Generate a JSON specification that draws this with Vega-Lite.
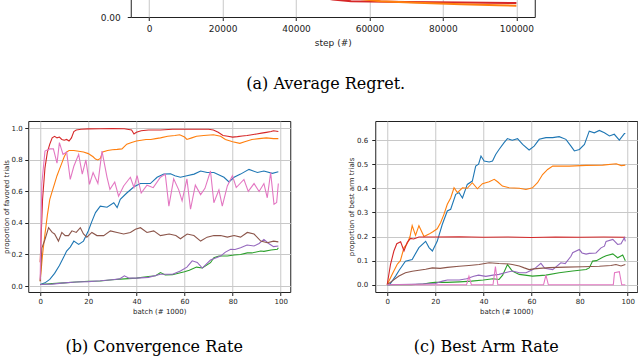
{
  "$schema": "https://vega.github.io/schema/vega-lite/v6.json",
  "padding": {"left": 1, "top": -84, "right": 0, "bottom": 0},
  "background": "white",
  "resolve": {"scale": {"color": "independent"}},
  "config": {
    "view": {"stroke": "#222222", "strokeWidth": 1},
    "axis": {"labelFont": "DejaVu Sans", "titleFont": "DejaVu Sans", "labelColor": "#222222", "titleColor": "#222222", "titleFontWeight": "normal", "tickColor": "#222222", "domain": false, "gridColor": "#c8c8c8", "gridWidth": 1, "tickSize": 3.5, "labelFontSize": 7, "titleFontSize": 7},
    "title": {"font": "DejaVu Serif", "fontSize": 16, "fontWeight": "normal", "color": "#000000", "orient": "bottom", "frame": "group", "anchor": "middle"}
  },
  "spacing": 28,
  "center": true,
  "align": "each",
  "vconcat": [
    {
      "width": 404, "height": 100,
      "title": {"text": "(a) Average Regret.", "offset": 28, "dx": -7},
      "data": {"values": [
        {"s":"red","x":0,"y":0.1},{"s":"red","x":20000,"y":0.05},{"s":"red","x":40000,"y":0.024},{"s":"red","x":50000,"y":0.0175},{"s":"red","x":55000,"y":0.0158},{"s":"red","x":70000,"y":0.015},{"s":"red","x":85000,"y":0.0144},{"s":"red","x":100000,"y":0.0139},
        {"s":"orange","x":0,"y":0.1},{"s":"orange","x":20000,"y":0.05},{"s":"orange","x":40000,"y":0.027},{"s":"orange","x":55000,"y":0.019},{"s":"orange","x":63000,"y":0.0158},{"s":"orange","x":73000,"y":0.0142},{"s":"orange","x":85000,"y":0.0128},{"s":"orange","x":95000,"y":0.0118},{"s":"orange","x":100000,"y":0.0113}
      ]},
      "mark": {"type": "line", "strokeWidth": 2, "clip": true},
      "encoding": {
        "x": {"field": "x", "type": "quantitative", "scale": {"domain": [-5000, 105000], "nice": false, "zero": false}, "axis": {"values": [0, 20000, 40000, 60000, 80000, 100000], "format": "d", "title": "step (#)", "labelFontSize": 9, "titleFontSize": 9, "labelPadding": 4, "titlePadding": 5}},
        "y": {"field": "y", "type": "quantitative", "scale": {"domain": [0, 0.1], "nice": false}, "axis": {"values": [0], "format": ".2f", "title": null, "grid": false, "labelFontSize": 9, "labelPadding": 7}},
        "color": {"field": "s", "type": "nominal", "scale": {"domain": ["red", "orange"], "range": ["#d62728", "#ff7f0e"]}, "legend": null}
      }
    },
    {
      "spacing": 55,
      "resolve": {"scale": {"color": "independent"}},
      "hconcat": [
        {
          "width": 262, "height": 171,
          "title": {"text": "(b) Convergence Rate", "offset": 25, "dx": -5},
          "data": {"values": [
            {"s":"blue","x":0,"y":0.01},{"s":"blue","x":2,"y":0.02},{"s":"blue","x":4,"y":0.042},{"s":"blue","x":6,"y":0.08},{"s":"blue","x":8,"y":0.13},{"s":"blue","x":10,"y":0.19},{"s":"blue","x":11,"y":0.222},{"s":"blue","x":12.5,"y":0.247},{"s":"blue","x":14,"y":0.285},{"s":"blue","x":16,"y":0.264},{"s":"blue","x":18,"y":0.285},{"s":"blue","x":20,"y":0.349},{"s":"blue","x":21.5,"y":0.41},{"s":"blue","x":23,"y":0.466},{"s":"blue","x":25,"y":0.507},{"s":"blue","x":27.8,"y":0.5},{"s":"blue","x":30.6,"y":0.528},{"s":"blue","x":32,"y":0.497},{"s":"blue","x":33.3,"y":0.55},{"s":"blue","x":36,"y":0.59},{"s":"blue","x":39,"y":0.63},{"s":"blue","x":41.7,"y":0.65},{"s":"blue","x":45.8,"y":0.65},{"s":"blue","x":48.6,"y":0.69},{"s":"blue","x":51.4,"y":0.71},{"s":"blue","x":54.2,"y":0.712},{"s":"blue","x":56,"y":0.7},{"s":"blue","x":58.3,"y":0.69},{"s":"blue","x":61,"y":0.7},{"s":"blue","x":64,"y":0.71},{"s":"blue","x":66.7,"y":0.73},{"s":"blue","x":69.4,"y":0.72},{"s":"blue","x":72.2,"y":0.72},{"s":"blue","x":76.4,"y":0.69},{"s":"blue","x":78.5,"y":0.66},{"s":"blue","x":80.6,"y":0.69},{"s":"blue","x":83.3,"y":0.71},{"s":"blue","x":86.8,"y":0.74},{"s":"blue","x":90.3,"y":0.72},{"s":"blue","x":93,"y":0.73},{"s":"blue","x":96.5,"y":0.715},{"s":"blue","x":99,"y":0.725},
            {"s":"orange","x":0,"y":0.03},{"s":"orange","x":1,"y":0.2},{"s":"orange","x":2,"y":0.33},{"s":"orange","x":3,"y":0.45},{"s":"orange","x":4,"y":0.55},{"s":"orange","x":5,"y":0.6},{"s":"orange","x":6,"y":0.65},{"s":"orange","x":7,"y":0.7},{"s":"orange","x":8,"y":0.74},{"s":"orange","x":9,"y":0.78},{"s":"orange","x":10,"y":0.82},{"s":"orange","x":11,"y":0.85},{"s":"orange","x":12,"y":0.86},{"s":"orange","x":14,"y":0.86},{"s":"orange","x":16,"y":0.855},{"s":"orange","x":18,"y":0.85},{"s":"orange","x":20,"y":0.84},{"s":"orange","x":22,"y":0.82},{"s":"orange","x":23,"y":0.805},{"s":"orange","x":24,"y":0.8},{"s":"orange","x":25,"y":0.81},{"s":"orange","x":26,"y":0.85},{"s":"orange","x":28,"y":0.86},{"s":"orange","x":30,"y":0.865},{"s":"orange","x":32,"y":0.867},{"s":"orange","x":34,"y":0.87},{"s":"orange","x":36,"y":0.9},{"s":"orange","x":38,"y":0.91},{"s":"orange","x":40,"y":0.92},{"s":"orange","x":42,"y":0.925},{"s":"orange","x":44,"y":0.93},{"s":"orange","x":46,"y":0.93},{"s":"orange","x":48,"y":0.935},{"s":"orange","x":50,"y":0.94},{"s":"orange","x":53,"y":0.95},{"s":"orange","x":56,"y":0.955},{"s":"orange","x":58,"y":0.96},{"s":"orange","x":60,"y":0.945},{"s":"orange","x":61,"y":0.93},{"s":"orange","x":63,"y":0.94},{"s":"orange","x":65,"y":0.95},{"s":"orange","x":68,"y":0.955},{"s":"orange","x":72,"y":0.96},{"s":"orange","x":75,"y":0.95},{"s":"orange","x":77,"y":0.93},{"s":"orange","x":80,"y":0.915},{"s":"orange","x":83,"y":0.905},{"s":"orange","x":85,"y":0.915},{"s":"orange","x":88,"y":0.93},{"s":"orange","x":91,"y":0.935},{"s":"orange","x":94,"y":0.94},{"s":"orange","x":97,"y":0.935},{"s":"orange","x":99,"y":0.935},
            {"s":"green","x":0,"y":0.01},{"s":"green","x":5,"y":0.015},{"s":"green","x":10,"y":0.02},{"s":"green","x":15,"y":0.025},{"s":"green","x":20,"y":0.03},{"s":"green","x":25,"y":0.032},{"s":"green","x":30,"y":0.04},{"s":"green","x":35,"y":0.045},{"s":"green","x":40,"y":0.05},{"s":"green","x":45,"y":0.06},{"s":"green","x":48,"y":0.065},{"s":"green","x":50,"y":0.085},{"s":"green","x":52,"y":0.07},{"s":"green","x":55,"y":0.072},{"s":"green","x":58.3,"y":0.084},{"s":"green","x":60,"y":0.09},{"s":"green","x":62,"y":0.1},{"s":"green","x":65,"y":0.12},{"s":"green","x":67.4,"y":0.114},{"s":"green","x":70.8,"y":0.148},{"s":"green","x":72.2,"y":0.18},{"s":"green","x":74.3,"y":0.19},{"s":"green","x":77.8,"y":0.19},{"s":"green","x":80.6,"y":0.197},{"s":"green","x":83.3,"y":0.2},{"s":"green","x":86.1,"y":0.21},{"s":"green","x":88,"y":0.21},{"s":"green","x":91.7,"y":0.222},{"s":"green","x":93,"y":0.22},{"s":"green","x":96,"y":0.228},{"s":"green","x":98.6,"y":0.233},{"s":"green","x":99,"y":0.243},
            {"s":"red","x":0,"y":0.15},{"s":"red","x":1,"y":0.55},{"s":"red","x":2,"y":0.75},{"s":"red","x":3,"y":0.85},{"s":"red","x":4,"y":0.9},{"s":"red","x":5,"y":0.94},{"s":"red","x":6,"y":0.95},{"s":"red","x":7,"y":0.94},{"s":"red","x":8,"y":0.945},{"s":"red","x":9,"y":0.93},{"s":"red","x":10,"y":0.925},{"s":"red","x":11,"y":0.93},{"s":"red","x":12,"y":0.92},{"s":"red","x":13,"y":0.94},{"s":"red","x":14,"y":0.98},{"s":"red","x":15,"y":0.99},{"s":"red","x":17,"y":0.995},{"s":"red","x":20,"y":0.997},{"s":"red","x":25,"y":0.998},{"s":"red","x":30,"y":0.999},{"s":"red","x":35,"y":0.998},{"s":"red","x":38,"y":0.99},{"s":"red","x":39,"y":0.965},{"s":"red","x":40,"y":0.975},{"s":"red","x":42,"y":0.985},{"s":"red","x":45,"y":0.99},{"s":"red","x":50,"y":0.99},{"s":"red","x":55,"y":0.995},{"s":"red","x":60,"y":0.995},{"s":"red","x":65,"y":0.995},{"s":"red","x":70,"y":0.995},{"s":"red","x":72,"y":0.99},{"s":"red","x":74,"y":0.975},{"s":"red","x":76,"y":0.955},{"s":"red","x":78,"y":0.95},{"s":"red","x":80,"y":0.945},{"s":"red","x":82,"y":0.948},{"s":"red","x":84,"y":0.952},{"s":"red","x":86,"y":0.955},{"s":"red","x":88,"y":0.96},{"s":"red","x":90,"y":0.965},{"s":"red","x":92,"y":0.97},{"s":"red","x":94,"y":0.975},{"s":"red","x":96,"y":0.98},{"s":"red","x":97,"y":0.985},{"s":"red","x":99,"y":0.98},
            {"s":"purple","x":0,"y":0.01},{"s":"purple","x":5,"y":0.012},{"s":"purple","x":10,"y":0.02},{"s":"purple","x":15,"y":0.025},{"s":"purple","x":20,"y":0.028},{"s":"purple","x":25,"y":0.033},{"s":"purple","x":30,"y":0.04},{"s":"purple","x":33,"y":0.045},{"s":"purple","x":35,"y":0.065},{"s":"purple","x":37,"y":0.05},{"s":"purple","x":40,"y":0.05},{"s":"purple","x":45,"y":0.055},{"s":"purple","x":50,"y":0.075},{"s":"purple","x":55,"y":0.075},{"s":"purple","x":58.3,"y":0.095},{"s":"purple","x":61,"y":0.12},{"s":"purple","x":63.2,"y":0.16},{"s":"purple","x":65.3,"y":0.15},{"s":"purple","x":67.4,"y":0.114},{"s":"purple","x":70.8,"y":0.165},{"s":"purple","x":75,"y":0.19},{"s":"purple","x":77,"y":0.215},{"s":"purple","x":79.2,"y":0.233},{"s":"purple","x":81,"y":0.232},{"s":"purple","x":83.3,"y":0.243},{"s":"purple","x":86,"y":0.26},{"s":"purple","x":88.9,"y":0.254},{"s":"purple","x":91,"y":0.27},{"s":"purple","x":93,"y":0.296},{"s":"purple","x":95,"y":0.27},{"s":"purple","x":97,"y":0.25},{"s":"purple","x":99,"y":0.254},
            {"s":"brown","x":0,"y":0.03},{"s":"brown","x":0.7,"y":0.24},{"s":"brown","x":2,"y":0.295},{"s":"brown","x":3.5,"y":0.37},{"s":"brown","x":5,"y":0.34},{"s":"brown","x":6,"y":0.33},{"s":"brown","x":7.6,"y":0.285},{"s":"brown","x":9,"y":0.34},{"s":"brown","x":10.4,"y":0.32},{"s":"brown","x":11.8,"y":0.32},{"s":"brown","x":13.2,"y":0.35},{"s":"brown","x":15,"y":0.34},{"s":"brown","x":16.7,"y":0.37},{"s":"brown","x":18,"y":0.33},{"s":"brown","x":19.4,"y":0.31},{"s":"brown","x":21.5,"y":0.34},{"s":"brown","x":23.6,"y":0.32},{"s":"brown","x":26.4,"y":0.32},{"s":"brown","x":29.2,"y":0.35},{"s":"brown","x":32,"y":0.34},{"s":"brown","x":34.7,"y":0.33},{"s":"brown","x":37.5,"y":0.34},{"s":"brown","x":39.6,"y":0.36},{"s":"brown","x":41.7,"y":0.37},{"s":"brown","x":44.4,"y":0.34},{"s":"brown","x":47.2,"y":0.35},{"s":"brown","x":50,"y":0.32},{"s":"brown","x":53.6,"y":0.33},{"s":"brown","x":56.4,"y":0.32},{"s":"brown","x":58.3,"y":0.3},{"s":"brown","x":61.1,"y":0.33},{"s":"brown","x":63.9,"y":0.32},{"s":"brown","x":66.7,"y":0.285},{"s":"brown","x":69.4,"y":0.31},{"s":"brown","x":72.2,"y":0.32},{"s":"brown","x":75,"y":0.32},{"s":"brown","x":77.8,"y":0.31},{"s":"brown","x":80.6,"y":0.32},{"s":"brown","x":83.3,"y":0.31},{"s":"brown","x":86.1,"y":0.34},{"s":"brown","x":88.9,"y":0.33},{"s":"brown","x":91.7,"y":0.285},{"s":"brown","x":94.4,"y":0.275},{"s":"brown","x":97,"y":0.285},{"s":"brown","x":99,"y":0.28},
            {"s":"pink","x":0,"y":0.04},{"s":"pink","x":0.7,"y":0.65},{"s":"pink","x":2,"y":0.856},{"s":"pink","x":4,"y":0.87},{"s":"pink","x":5.5,"y":0.87},{"s":"pink","x":7,"y":0.78},{"s":"pink","x":8,"y":0.91},{"s":"pink","x":9.5,"y":0.835},{"s":"pink","x":11,"y":0.85},{"s":"pink","x":12.5,"y":0.676},{"s":"pink","x":14,"y":0.76},{"s":"pink","x":16,"y":0.835},{"s":"pink","x":17.5,"y":0.71},{"s":"pink","x":19,"y":0.8},{"s":"pink","x":20.5,"y":0.645},{"s":"pink","x":22,"y":0.72},{"s":"pink","x":24,"y":0.65},{"s":"pink","x":25.7,"y":0.856},{"s":"pink","x":27.8,"y":0.69},{"s":"pink","x":29,"y":0.613},{"s":"pink","x":31,"y":0.66},{"s":"pink","x":32.6,"y":0.57},{"s":"pink","x":34.7,"y":0.635},{"s":"pink","x":37.5,"y":0.69},{"s":"pink","x":39,"y":0.625},{"s":"pink","x":40.3,"y":0.7},{"s":"pink","x":42,"y":0.59},{"s":"pink","x":44.4,"y":0.64},{"s":"pink","x":47,"y":0.624},{"s":"pink","x":50,"y":0.69},{"s":"pink","x":52,"y":0.71},{"s":"pink","x":53.5,"y":0.507},{"s":"pink","x":55.5,"y":0.68},{"s":"pink","x":57.6,"y":0.61},{"s":"pink","x":59,"y":0.54},{"s":"pink","x":61,"y":0.68},{"s":"pink","x":62.5,"y":0.487},{"s":"pink","x":64.5,"y":0.64},{"s":"pink","x":66.7,"y":0.58},{"s":"pink","x":68.5,"y":0.62},{"s":"pink","x":70.8,"y":0.73},{"s":"pink","x":72.2,"y":0.528},{"s":"pink","x":74.3,"y":0.61},{"s":"pink","x":75.7,"y":0.507},{"s":"pink","x":77.8,"y":0.635},{"s":"pink","x":79.9,"y":0.7},{"s":"pink","x":81.5,"y":0.625},{"s":"pink","x":84.7,"y":0.676},{"s":"pink","x":86.5,"y":0.6},{"s":"pink","x":88.9,"y":0.65},{"s":"pink","x":91,"y":0.6},{"s":"pink","x":93,"y":0.65},{"s":"pink","x":94.4,"y":0.56},{"s":"pink","x":95.8,"y":0.72},{"s":"pink","x":97.2,"y":0.518},{"s":"pink","x":98.3,"y":0.53},{"s":"pink","x":99,"y":0.65}
          ]},
          "mark": {"type": "line", "strokeWidth": 1.1, "clip": true},
          "encoding": {
            "x": {"field": "x", "type": "quantitative", "scale": {"domain": [-4.95, 103.95], "nice": false, "zero": false}, "axis": {"values": [0, 20, 40, 60, 80, 100], "title": "batch (# 1000)", "labelPadding": 2, "titlePadding": 2.5}},
            "y": {"field": "y", "type": "quantitative", "scale": {"domain": [-0.038, 1.047], "nice": false, "zero": false}, "axis": {"values": [0, 0.2, 0.4, 0.6, 0.8, 1.0], "format": ".1f", "title": "proportion of favored trials", "labelPadding": 2.5, "titlePadding": 2}},
            "color": {"field": "s", "type": "nominal", "scale": {"domain": ["blue", "orange", "green", "red", "purple", "brown", "pink"], "range": ["#1f77b4", "#ff7f0e", "#2ca02c", "#d62728", "#9467bd", "#8c564b", "#e377c2"]}, "legend": null}
          }
        },
        {
          "width": 262, "height": 171,
          "title": {"text": "(c) Best Arm Rate", "offset": 25, "dx": -20},
          "data": {"values": [
            {"s":"blue","x":0,"y":0},{"s":"blue","x":1,"y":0},{"s":"blue","x":3.5,"y":0.036},{"s":"blue","x":5,"y":0.06},{"s":"blue","x":7.6,"y":0.098},{"s":"blue","x":10.4,"y":0.105},{"s":"blue","x":13.2,"y":0.154},{"s":"blue","x":16,"y":0.18},{"s":"blue","x":17.4,"y":0.154},{"s":"blue","x":18.8,"y":0.14},{"s":"blue","x":20.8,"y":0.18},{"s":"blue","x":22.9,"y":0.25},{"s":"blue","x":25,"y":0.306},{"s":"blue","x":26.4,"y":0.313},{"s":"blue","x":28.5,"y":0.375},{"s":"blue","x":29.9,"y":0.382},{"s":"blue","x":31.3,"y":0.36},{"s":"blue","x":33.3,"y":0.416},{"s":"blue","x":35.4,"y":0.43},{"s":"blue","x":36.8,"y":0.492},{"s":"blue","x":38,"y":0.5},{"s":"blue","x":39,"y":0.534},{"s":"blue","x":40.3,"y":0.513},{"s":"blue","x":42.4,"y":0.509},{"s":"blue","x":43.8,"y":0.513},{"s":"blue","x":45.1,"y":0.54},{"s":"blue","x":46.5,"y":0.561},{"s":"blue","x":48.6,"y":0.589},{"s":"blue","x":50,"y":0.606},{"s":"blue","x":52,"y":0.599},{"s":"blue","x":54.2,"y":0.606},{"s":"blue","x":56.3,"y":0.582},{"s":"blue","x":59,"y":0.559},{"s":"blue","x":61.1,"y":0.575},{"s":"blue","x":63.2,"y":0.603},{"s":"blue","x":66,"y":0.61},{"s":"blue","x":68.8,"y":0.61},{"s":"blue","x":71.5,"y":0.614},{"s":"blue","x":74.3,"y":0.603},{"s":"blue","x":76.4,"y":0.575},{"s":"blue","x":77.8,"y":0.555},{"s":"blue","x":79.9,"y":0.561},{"s":"blue","x":82,"y":0.582},{"s":"blue","x":84,"y":0.637},{"s":"blue","x":86.1,"y":0.63},{"s":"blue","x":88.2,"y":0.64},{"s":"blue","x":90.3,"y":0.63},{"s":"blue","x":92.4,"y":0.617},{"s":"blue","x":94.4,"y":0.624},{"s":"blue","x":96.5,"y":0.6},{"s":"blue","x":98.6,"y":0.627},{"s":"blue","x":99,"y":0.627},
            {"s":"orange","x":0,"y":0},{"s":"orange","x":2.1,"y":0.044},{"s":"orange","x":4.2,"y":0.085},{"s":"orange","x":5.5,"y":0.1},{"s":"orange","x":7,"y":0.154},{"s":"orange","x":8.3,"y":0.17},{"s":"orange","x":9.5,"y":0.2},{"s":"orange","x":10.4,"y":0.245},{"s":"orange","x":11.8,"y":0.205},{"s":"orange","x":13.2,"y":0.245},{"s":"orange","x":15.3,"y":0.2},{"s":"orange","x":17.4,"y":0.21},{"s":"orange","x":19,"y":0.22},{"s":"orange","x":20.8,"y":0.232},{"s":"orange","x":22.2,"y":0.257},{"s":"orange","x":23.6,"y":0.292},{"s":"orange","x":25,"y":0.334},{"s":"orange","x":26.4,"y":0.36},{"s":"orange","x":27.8,"y":0.402},{"s":"orange","x":29.2,"y":0.382},{"s":"orange","x":31.3,"y":0.402},{"s":"orange","x":33.3,"y":0.4},{"s":"orange","x":35.4,"y":0.423},{"s":"orange","x":37.5,"y":0.398},{"s":"orange","x":39.6,"y":0.419},{"s":"orange","x":42.4,"y":0.427},{"s":"orange","x":44.5,"y":0.437},{"s":"orange","x":45.9,"y":0.427},{"s":"orange","x":47.9,"y":0.409},{"s":"orange","x":50.7,"y":0.402},{"s":"orange","x":54.9,"y":0.4},{"s":"orange","x":57.7,"y":0.395},{"s":"orange","x":60.4,"y":0.402},{"s":"orange","x":62.5,"y":0.423},{"s":"orange","x":64.6,"y":0.457},{"s":"orange","x":66.7,"y":0.478},{"s":"orange","x":68.8,"y":0.492},{"s":"orange","x":75.7,"y":0.492},{"s":"orange","x":82.7,"y":0.495},{"s":"orange","x":89.6,"y":0.496},{"s":"orange","x":95.2,"y":0.502},{"s":"orange","x":97.3,"y":0.494},{"s":"orange","x":99,"y":0.496},
            {"s":"green","x":0,"y":0},{"s":"green","x":10,"y":0},{"s":"green","x":15,"y":0.003},{"s":"green","x":18,"y":0.008},{"s":"green","x":20,"y":0.01},{"s":"green","x":25,"y":0.01},{"s":"green","x":30,"y":0.012},{"s":"green","x":35,"y":0.015},{"s":"green","x":40,"y":0.02},{"s":"green","x":44,"y":0.025},{"s":"green","x":46.5,"y":0.022},{"s":"green","x":48,"y":0.04},{"s":"green","x":50,"y":0.084},{"s":"green","x":52,"y":0.057},{"s":"green","x":54.9,"y":0.043},{"s":"green","x":60.4,"y":0.036},{"s":"green","x":66,"y":0.04},{"s":"green","x":71.5,"y":0.05},{"s":"green","x":77.1,"y":0.057},{"s":"green","x":82.7,"y":0.063},{"s":"green","x":84,"y":0.07},{"s":"green","x":85.4,"y":0.098},{"s":"green","x":87,"y":0.1},{"s":"green","x":89.6,"y":0.114},{"s":"green","x":91,"y":0.12},{"s":"green","x":93.8,"y":0.128},{"s":"green","x":95.8,"y":0.112},{"s":"green","x":97.9,"y":0.123},{"s":"green","x":99,"y":0.1},
            {"s":"red","x":0,"y":0},{"s":"red","x":1.4,"y":0.085},{"s":"red","x":2.8,"y":0.14},{"s":"red","x":4,"y":0.17},{"s":"red","x":5.6,"y":0.178},{"s":"red","x":7,"y":0.14},{"s":"red","x":8.3,"y":0.175},{"s":"red","x":9.7,"y":0.192},{"s":"red","x":11,"y":0.19},{"s":"red","x":13.2,"y":0.198},{"s":"red","x":20,"y":0.198},{"s":"red","x":30,"y":0.199},{"s":"red","x":40,"y":0.197},{"s":"red","x":50,"y":0.198},{"s":"red","x":60,"y":0.196},{"s":"red","x":70,"y":0.198},{"s":"red","x":80,"y":0.197},{"s":"red","x":90,"y":0.198},{"s":"red","x":99,"y":0.197},
            {"s":"purple","x":0,"y":0},{"s":"purple","x":10,"y":0.002},{"s":"purple","x":20,"y":0.005},{"s":"purple","x":23,"y":0.015},{"s":"purple","x":25,"y":0.02},{"s":"purple","x":30,"y":0.02},{"s":"purple","x":33,"y":0.025},{"s":"purple","x":36,"y":0.035},{"s":"purple","x":38,"y":0.04},{"s":"purple","x":41,"y":0.035},{"s":"purple","x":44,"y":0.04},{"s":"purple","x":46.5,"y":0.043},{"s":"purple","x":49,"y":0.05},{"s":"purple","x":52,"y":0.057},{"s":"purple","x":55,"y":0.05},{"s":"purple","x":57.7,"y":0.05},{"s":"purple","x":60,"y":0.06},{"s":"purple","x":61.8,"y":0.071},{"s":"purple","x":63.9,"y":0.089},{"s":"purple","x":65.5,"y":0.068},{"s":"purple","x":68.8,"y":0.063},{"s":"purple","x":72.2,"y":0.091},{"s":"purple","x":74,"y":0.088},{"s":"purple","x":76.4,"y":0.118},{"s":"purple","x":77.1,"y":0.133},{"s":"purple","x":79.9,"y":0.146},{"s":"purple","x":81,"y":0.132},{"s":"purple","x":82.7,"y":0.127},{"s":"purple","x":84,"y":0.13},{"s":"purple","x":86.8,"y":0.132},{"s":"purple","x":88.9,"y":0.153},{"s":"purple","x":90.3,"y":0.16},{"s":"purple","x":91,"y":0.18},{"s":"purple","x":93.8,"y":0.188},{"s":"purple","x":95.8,"y":0.167},{"s":"purple","x":97.2,"y":0.17},{"s":"purple","x":98.6,"y":0.195},{"s":"purple","x":99,"y":0.18},
            {"s":"brown","x":0,"y":0},{"s":"brown","x":2,"y":0.015},{"s":"brown","x":4.9,"y":0.036},{"s":"brown","x":7.6,"y":0.05},{"s":"brown","x":10.4,"y":0.056},{"s":"brown","x":13.2,"y":0.06},{"s":"brown","x":16,"y":0.064},{"s":"brown","x":18.8,"y":0.07},{"s":"brown","x":22,"y":0.068},{"s":"brown","x":25,"y":0.072},{"s":"brown","x":29.9,"y":0.077},{"s":"brown","x":34,"y":0.08},{"s":"brown","x":38.2,"y":0.084},{"s":"brown","x":42.4,"y":0.091},{"s":"brown","x":46.5,"y":0.088},{"s":"brown","x":50.7,"y":0.086},{"s":"brown","x":52,"y":0.084},{"s":"brown","x":54.9,"y":0.078},{"s":"brown","x":57,"y":0.07},{"s":"brown","x":59,"y":0.063},{"s":"brown","x":61,"y":0.066},{"s":"brown","x":63.2,"y":0.068},{"s":"brown","x":67.4,"y":0.071},{"s":"brown","x":74.3,"y":0.073},{"s":"brown","x":81.3,"y":0.075},{"s":"brown","x":88.2,"y":0.077},{"s":"brown","x":93,"y":0.08},{"s":"brown","x":95.1,"y":0.084},{"s":"brown","x":97.2,"y":0.078},{"s":"brown","x":99,"y":0.084},
            {"s":"pink","x":0,"y":0},{"s":"pink","x":33,"y":0},{"s":"pink","x":34,"y":0.035},{"s":"pink","x":35,"y":0},{"s":"pink","x":44,"y":0},{"s":"pink","x":45,"y":0.075},{"s":"pink","x":46,"y":0},{"s":"pink","x":65,"y":0},{"s":"pink","x":66,"y":0.04},{"s":"pink","x":67,"y":0},{"s":"pink","x":94,"y":0},{"s":"pink","x":94.5,"y":0.05},{"s":"pink","x":96.5,"y":0.054},{"s":"pink","x":97.5,"y":0},{"s":"pink","x":99,"y":0}
          ]},
          "mark": {"type": "line", "strokeWidth": 1.1, "clip": true},
          "encoding": {
            "x": {"field": "x", "type": "quantitative", "scale": {"domain": [-4.95, 103.95], "nice": false, "zero": false}, "axis": {"values": [0, 20, 40, 60, 80, 100], "title": "batch (# 1000)", "labelPadding": 2, "titlePadding": 2.5}},
            "y": {"field": "y", "type": "quantitative", "scale": {"domain": [-0.03, 0.679], "nice": false, "zero": false}, "axis": {"values": [0, 0.1, 0.2, 0.3, 0.4, 0.5, 0.6], "format": ".1f", "title": "proportion of best arm trials", "labelPadding": 4, "titlePadding": 2}},
            "color": {"field": "s", "type": "nominal", "scale": {"domain": ["blue", "orange", "green", "red", "purple", "brown", "pink"], "range": ["#1f77b4", "#ff7f0e", "#2ca02c", "#d62728", "#9467bd", "#8c564b", "#e377c2"]}, "legend": null}
          }
        }
      ]
    }
  ]
}
